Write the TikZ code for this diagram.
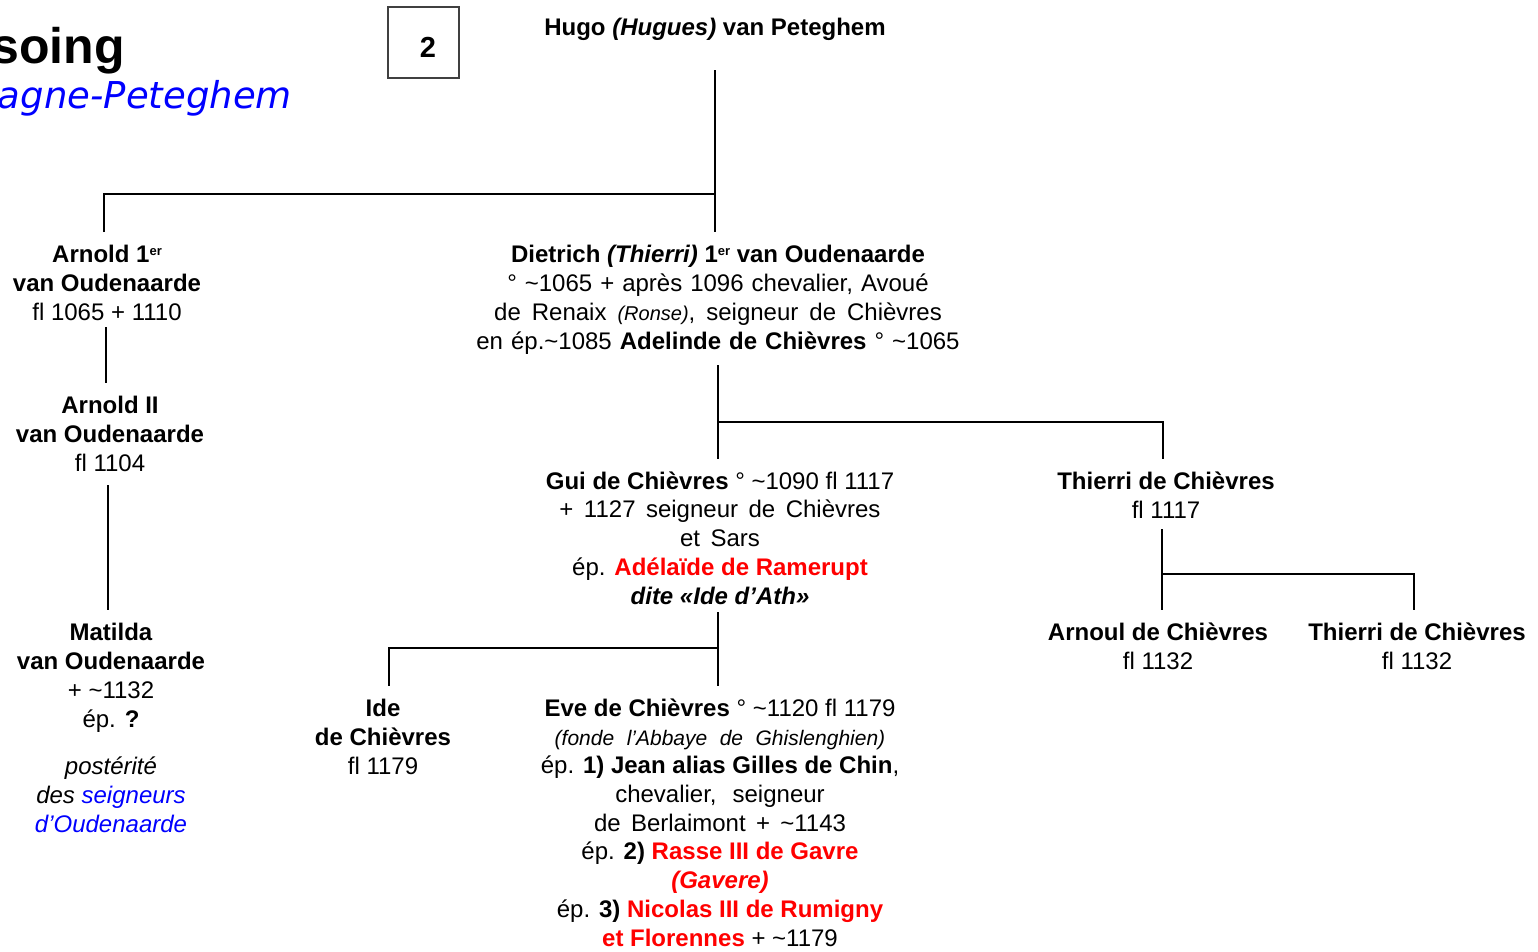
\documentclass[tikz,border=0pt]{standalone}
\usepackage{fontspec}
\setmainfont{Liberation Sans}
\newfontfamily\titlefont{DejaVu Sans}
\definecolor{myred}{RGB}{255,0,0}
\definecolor{myblue}{RGB}{0,0,255}
\newcommand\wsp[1]{\spaceskip=#1pt\relax}
\newcommand\supr[1]{{\fontsize{13}{13}\selectfont\raisebox{7pt}{#1}}}
\begin{document}
\begin{tikzpicture}[x=1pt,y=-1pt,
  person/.style={align=center, inner sep=0pt, anchor=base, font=\fontsize{24}{28.7}\selectfont},
  link/.style={line width=2.6pt}]
\useasboundingbox (0,0) rectangle (1538,951);
% title
\node[anchor=base east, inner sep=0pt, font=\fontsize{50}{60}\selectfont\bfseries] (title) at (125,63) {soing};
\node[anchor=base east, inner sep=0pt, text=myblue, font=\titlefont\itshape\fontsize{37}{42}\selectfont] (subtitle) at (292,108) {agne-Peteghem};
\node[draw={black!75}, line width=1.3pt, minimum width=71pt, minimum height=71pt, inner sep=0pt] (num) at (423.5,42.5) {};
\node[inner sep=0pt, anchor=base, font=\fontsize{29}{30}\selectfont\bfseries] (numtext) at (428,57) {2};
% persons (anchor base = baseline of the last line)
\node[person] (hugo) at (715,35) {\textbf{Hugo \textit{(Hugues)} van Peteghem}};
\node[person] (arnold1) at (107,320) {\textbf{Arnold 1\supr{er}}\\\textbf{van Oudenaarde}\\fl 1065 + 1110};
\node[person] (arnold2) at (110,471) {\textbf{Arnold II}\\\textbf{van Oudenaarde}\\fl 1104};
\node[person] (matilda) at (111,727) {\textbf{Matilda}\\\textbf{van Oudenaarde}\\+ \textasciitilde1132\\ép. \textbf{?}};
\node[person] (post) at (111,832) {\textit{postérité}\\\textit{des \textcolor{myblue}{seigneurs}}\\\textit{\textcolor{myblue}{d’Oudenaarde}}};
\node[person] (dietrich) at (718,349) {\textbf{Dietrich \textit{(Thierri)} 1\supr{er} van Oudenaarde}\\{\wsp{8}° \textasciitilde1065 + après 1096 chevalier, Avoué}\\{\wsp{11}de Renaix {\fontsize{20}{28.7}\selectfont\textit{(Ronse)}}, seigneur de Chièvres}\\{\wsp{8}en ép.\textasciitilde1085 \textbf{Adelinde de Chièvres} ° \textasciitilde1065}};
\node[person] (gui) at (720,604) {\textbf{Gui de Chièvres} ° \textasciitilde1090 fl 1117\\{\wsp{10.5}+ 1127 seigneur de Chièvres}\\{\wsp{10.5}et Sars}\\ép. \textcolor{myred}{\textbf{Adélaïde de Ramerupt}}\\\textbf{\textit{dite «Ide d’Ath»}}};
\node[person] (thierri) at (1166,518) {\textbf{Thierri de Chièvres}\\fl 1117};
\node[person] (arnoul) at (1158,669) {\textbf{Arnoul de Chièvres}\\fl 1132};
\node[person] (thierri2) at (1417,669) {\textbf{Thierri de Chièvres}\\fl 1132};
\node[person] (ide) at (383,774) {\textbf{Ide}\\\textbf{de Chièvres}\\fl 1179};
\node[person] (eve) at (720,946) {\textbf{Eve de Chièvres} ° \textasciitilde1120 fl 1179\\{\fontsize{21}{28.7}\selectfont\wsp{12.5}\textit{(fonde l’Abbaye de Ghislenghien)}}\\ép. \textbf{1) Jean alias Gilles de Chin},\\{\wsp{16}chevalier, seigneur}\\{\wsp{10.3}de Berlaimont + \textasciitilde1143}\\ép. \textbf{2) \textcolor{myred}{Rasse III de Gavre}}\\\textcolor{myred}{\textbf{\textit{(Gavere)}}}\\ép. \textbf{3) \textcolor{myred}{Nicolas III de Rumigny}}\\\textcolor{myred}{\textbf{et Florennes}} + \textasciitilde1179};
% connector coordinates
\coordinate (hA) at (715,70);
\coordinate (hJ) at (715,194);
\coordinate (hB) at (715,232);
\coordinate (aJ) at (104,194);
\coordinate (aT) at (104,232);
\coordinate (a1B) at (106,327);
\coordinate (a2T) at (106,383);
\coordinate (a2B) at (108,485);
\coordinate (mT) at (108,610);
\coordinate (dB) at (718,365);
\coordinate (dJ) at (718,422);
\coordinate (gT) at (718,459);
\coordinate (tJ) at (1163,422);
\coordinate (tT) at (1163,459);
\coordinate (gB) at (718,612);
\coordinate (gJ) at (718,648);
\coordinate (eT) at (718,686);
\coordinate (iJ) at (389,648);
\coordinate (iT) at (389,686);
\coordinate (tB) at (1162,529);
\coordinate (tJ2) at (1162,574);
\coordinate (arT) at (1162,610);
\coordinate (t2J) at (1414,574);
\coordinate (t2T) at (1414,610);
% connectors
\draw[link] (hA) -- (hB);
\draw[link] (aT) -- (aJ) -- (hJ);
\draw[link] (a1B) -- (a2T);
\draw[link] (a2B) -- (mT);
\draw[link] (dB) -- (gT);
\draw[link] (dJ) -- (tJ) -- (tT);
\draw[link] (gB) -- (eT);
\draw[link] (gJ) -- (iJ) -- (iT);
\draw[link] (tB) -- (arT);
\draw[link] (tJ2) -- (t2J) -- (t2T);
\end{tikzpicture}
\end{document}
